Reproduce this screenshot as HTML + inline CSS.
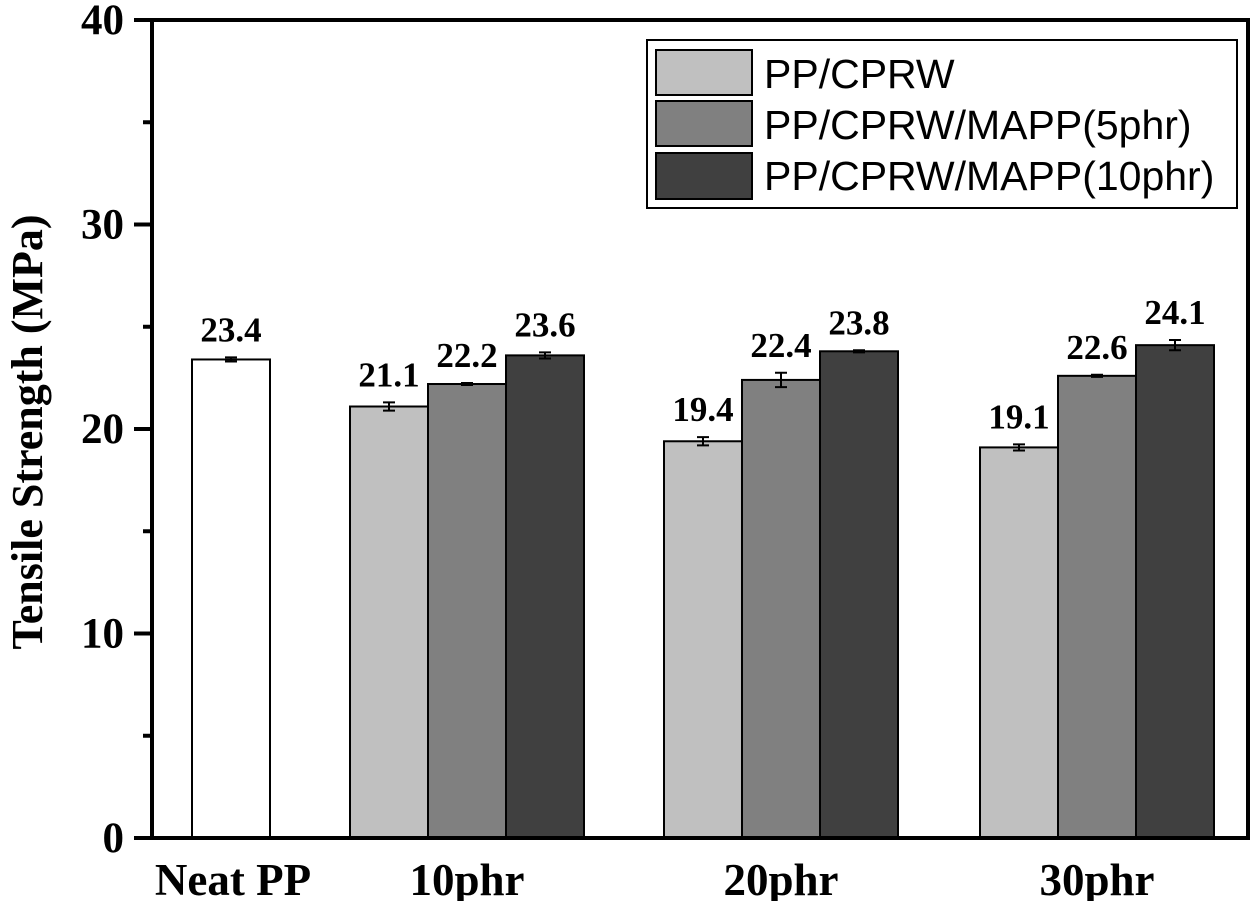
<!DOCTYPE html>
<html><head><meta charset="utf-8"><style>
body{margin:0;background:#fff}
svg{display:block}
.s{font-family:"Liberation Serif",serif;font-weight:bold}
</style></head><body>
<svg id="c" width="1260" height="901" xmlns="http://www.w3.org/2000/svg">
<rect x="0" y="0" width="1260" height="901" fill="#fff"/>
<g id="bars"></g>
<g id="axes"></g>
<g>
<rect x="647" y="40" width="590" height="168" fill="#fff" stroke="#000" stroke-width="2"/>
<rect x="656" y="50" width="96" height="45" fill="#c0c0c0" stroke="#000" stroke-width="2"/>
<text x="764" y="88" font-family="Liberation Sans, sans-serif" font-size="41">PP/CPRW</text>
<rect x="656" y="101" width="96" height="45" fill="#808080" stroke="#000" stroke-width="2"/>
<text x="764" y="139" font-family="Liberation Sans, sans-serif" font-size="41">PP/CPRW/MAPP(5phr)</text>
<rect x="656" y="153" width="96" height="46" fill="#404040" stroke="#000" stroke-width="2"/>
<text x="764" y="190" font-family="Liberation Sans, sans-serif" font-size="41">PP/CPRW/MAPP(10phr)</text>
</g>
<text class="s" font-size="44" transform="translate(42,432) rotate(-90)" text-anchor="middle">Tensile Strength (MPa)</text>
</svg>
<script>
const categories=["Neat PP","10phr","20phr","30phr"];
const neatValue=[23.4];
const neatErr=[0.1];
const cprw=[21.1,19.4,19.1];
const cprwErr=[0.2,0.2,0.15];
const mapp5=[22.2,22.4,22.6];
const mapp5Err=[0.05,0.35,0.05];
const mapp10=[23.6,23.8,24.1];
const mapp10Err=[0.15,0.05,0.25];
const yTicks=[0,10,20,30,40];

const NS="http://www.w3.org/2000/svg";
const X0=152,X1=1248,Y0=838,Y40=20;
const y=v=>Y0-(v/40)*(Y0-Y40);
const barW=78;
const groupStart=[192,350,664,980];
const bars=document.getElementById('bars'),axes=document.getElementById('axes');
function mk(tag,attrs,parent){const e=document.createElementNS(NS,tag);for(const k in attrs)e.setAttribute(k,attrs[k]);parent.appendChild(e);return e;}
function bar(x,v,err,fill,name){
  const r=mk('rect',{x:x,y:y(v),width:barW,height:Y0-y(v),fill:fill,stroke:'#000','stroke-width':2},bars);
  
  
  const cx=x+barW/2;
  const e=mk('path',{d:`M${cx},${y(v+err)}V${y(v-err)}M${cx-6},${y(v+err)}H${cx+6}M${cx-6},${y(v-err)}H${cx+6}`,stroke:'#000','stroke-width':2,fill:'none'},bars);
  
  
  const t=mk('text',{x:cx,y:y(v+err)-16,'text-anchor':'middle','font-size':35,class:'s'},bars);
  t.textContent=v.toFixed(1);
  
  
}
bar(groupStart[0],neatValue[0],neatErr[0],'#fff','bar-neat-pp');
for(let i=0;i<3;i++){
  const gx=groupStart[i+1];
  bar(gx,cprw[i],cprwErr[i],'#c0c0c0','bar-cprw-'+categories[i+1]);
  bar(gx+barW,mapp5[i],mapp5Err[i],'#808080','bar-mapp5-'+categories[i+1]);
  bar(gx+2*barW,mapp10[i],mapp10Err[i],'#404040','bar-mapp10-'+categories[i+1]);
}
const f=mk('path',{d:`M${X0},${Y40}H${X1}V${Y0}H${X0}Z`,fill:'none',stroke:'#000','stroke-width':4},axes);


yTicks.forEach(v=>{
  const tk=mk('line',{x1:X0-18,x2:X0,y1:y(v),y2:y(v),stroke:'#000','stroke-width':4},axes);
  
  
  const t=mk('text',{x:X0-28,y:y(v)+14,'text-anchor':'end','font-size':43,class:'s'},axes);
  t.textContent=v;
  
  
  if(v<40){const m=mk('line',{x1:X0-9,x2:X0,y1:y(v+5),y2:y(v+5),stroke:'#000','stroke-width':4},axes);
  
  }
});
categories.forEach((c,i)=>{
  const cx=i===0?groupStart[0]+barW/2+2:groupStart[i]+1.5*barW;
  const t=mk('text',{x:cx,y:895,'text-anchor':'middle','font-size':45,class:'s'},axes);
  t.textContent=c;
  
  
});
</script>
</body></html>
